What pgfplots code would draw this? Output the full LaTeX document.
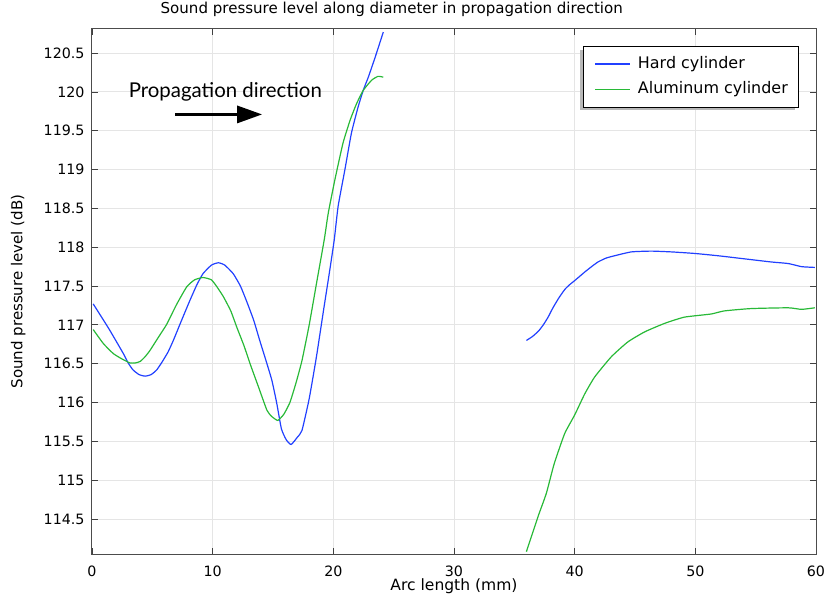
\documentclass[border=0pt]{standalone}
\usepackage{pgfplots}
\pgfplotsset{compat=1.18}
\usepackage{fontspec}
\setmainfont{DejaVu Sans}
\newfontfamily\latofont{Lato}
\usetikzlibrary{arrows.meta}
\definecolor{hardblue}{RGB}{33,64,255}
\definecolor{alugreen}{RGB}{40,185,55}

\pgfplotstableread{
x y
0.1 117.27
1.4 116.95
2.6 116.63
3.0 116.51
3.4 116.42
3.9 116.36
4.4 116.34
4.9 116.36
5.36 116.42
5.8 116.52
6.3 116.65
6.74 116.8
7.4 117.05
8.1 117.31
8.7 117.52
9.2 117.66
9.9 117.77
10.47 117.8
11.0 117.77
11.7 117.66
12.3 117.5
12.8 117.31
13.4 117.06
13.9 116.8
14.4 116.55
14.9 116.29
15.3 116.0
15.7 115.66
16.1 115.52
16.5 115.46
17.0 115.55
17.4 115.64
18.0 116.05
18.6 116.59
19.2 117.2
19.7 117.7
20.08 118.1
20.4 118.53
20.96 119.0
21.5 119.47
22.06 119.81
22.5 120.03
22.9 120.19
23.3 120.37
23.6 120.51
24.14 120.77
}\hardA

\pgfplotstableread{
x y
36.0 116.80
36.5 116.85
37.0 116.92
37.4 117.00
37.8 117.10
38.2 117.22
38.7 117.35
39.2 117.46
39.6 117.52
40.0 117.57
40.83 117.68
41.4 117.75
41.93 117.81
42.6 117.86
43.3 117.89
44.7 117.94
46.35 117.95
48.0 117.94
49.94 117.92
51.9 117.89
54.1 117.85
56.3 117.81
57.7 117.79
58.8 117.75
59.9 117.74
}\hardB

\pgfplotstableread{
x y
0.1 116.94
0.94 116.76
1.77 116.63
2.5 116.56
3.15 116.51
3.6 116.51
4.0 116.53
4.4 116.59
4.8 116.67
5.5 116.84
6.2 117.01
7.0 117.26
7.85 117.49
8.5 117.58
9.2 117.61
9.9 117.58
10.4 117.48
10.9 117.36
11.5 117.18
12.0 116.97
12.6 116.73
13.1 116.5
13.8 116.2
14.5 115.9
14.9 115.82
15.4 115.77
15.9 115.85
16.4 116.0
16.9 116.25
17.4 116.54
18.0 117.0
18.6 117.53
19.25 118.1
19.58 118.44
20.13 118.87
20.8 119.34
21.4 119.64
21.93 119.85
22.48 120.02
23.17 120.15
23.7 120.2
24.14 120.19
}\aluA

\pgfplotstableread{
x y
36.0 114.08
36.96 114.53
37.65 114.83
38.3 115.21
39.17 115.6
40.0 115.84
40.83 116.11
41.66 116.33
43.04 116.59
44.4 116.78
45.8 116.91
47.46 117.02
49.1 117.1
51.3 117.14
52.4 117.18
54.6 117.21
57.7 117.22
58.8 117.2
59.9 117.22
}\aluB

\begin{document}
\begin{tikzpicture}
\useasboundingbox (-92bp,-42bp) rectangle (733bp,554bp);
\begin{axis}[
  at={(0,0)}, anchor=south west,
  scale only axis, width=724bp, height=525bp,
  xmin=0, xmax=60, ymin=114.05, ymax=120.81,
  xtick={0,10,20,30,40,50,60},
  ytick={114.5,115,115.5,116,116.5,117,117.5,118,118.5,119,119.5,120,120.5},
  /pgf/number format/assume math mode=true,
  /pgf/number format/.cd, fixed, precision=1, /pgfplots/.cd,
  tick align=inside, major tick length=6bp,
  tick style={black!75, line width=0.8bp},
  axis line style={black!70, line width=1bp},
  grid=major,
  major grid style={draw=black!10, line width=1bp},
  tick label style={font=\fontsize{14.3}{16}\selectfont},
  xticklabel style={yshift=-8bp},
  yticklabel style={xshift=-4bp},
  xlabel={Arc length (mm)},
  ylabel={Sound pressure level (dB)},
  xlabel style={at={(axis description cs:0.5,0)}, anchor=base, yshift=-36bp, font=\fontsize{15.6}{18}\selectfont},
  ylabel style={at={(axis description cs:-0.102,0.5)}, anchor=center, font=\fontsize{15.1}{18}\selectfont},
  title={Sound pressure level along diameter in propagation direction},
  title style={at={(axis description cs:0.414,1)}, anchor=base, yshift=10bp, font=\fontsize{15.1}{17}\selectfont},
  legend style={at={(rel axis cs:0.678,0.968)}, anchor=north west,
    draw=black, line width=1bp, fill=white,
    font=\fontsize{16}{18}\selectfont, row sep=10bp, inner xsep=11bp, inner ysep=10bp,
    nodes={inner sep=0pt, text height=12bp, text depth=3.5bp},
    /tikz/every odd column/.append style={column sep=7bp}},
  legend cell align=left,
  legend image code/.code={\draw[#1, line width=1.6bp] (0bp,0bp) -- (35bp,0bp);},
  clip=false,
]
\fill[black!28] ([xshift=-3bp,yshift=-4bp]rel axis cs:0.678,0.853) rectangle ([xshift=-3bp,yshift=-4bp]rel axis cs:0.975,0.968);
\addplot[hardblue, line width=1.2bp, smooth, tension=0.3] table[x=x,y=y] {\hardA};
\addlegendentry{Hard cylinder}
\addplot[alugreen, line width=1.2bp, smooth, tension=0.3] table[x=x,y=y] {\aluA};
\addlegendentry{Aluminum cylinder}
\addplot[hardblue, line width=1.2bp, smooth, tension=0.3, forget plot] table[x=x,y=y] {\hardB};
\addplot[alugreen, line width=1.2bp, smooth, tension=0.3, forget plot] table[x=x,y=y] {\aluB};
\node[font=\latofont\fontsize{20.5}{23}\selectfont, anchor=base west, inner sep=0pt] at (axis cs:3.03,119.93) {Propagation direction};
\draw[line width=3bp, -{Triangle[length=25bp,width=17bp]}] (axis cs:6.9,119.71) -- (axis cs:14.1,119.71);
\end{axis}
\end{tikzpicture}
\end{document}
